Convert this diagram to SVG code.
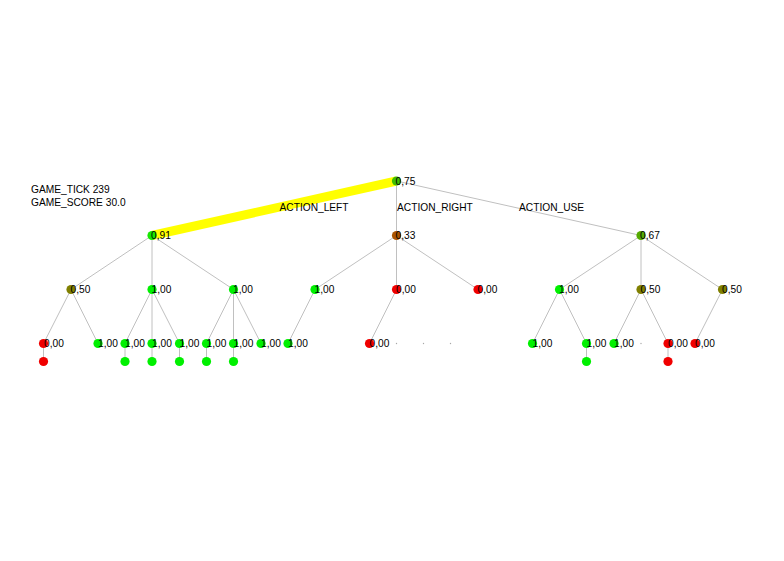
<svg xmlns="http://www.w3.org/2000/svg" width="784" height="561" viewBox="0 0 784 561">
<style>
text{font-family:"Liberation Sans",Arial,sans-serif;font-size:10.2px;fill:#000}
.e{stroke:#c0c0c0;stroke-width:1;fill:none}
.hl{stroke:#ffff00;stroke-width:9;fill:none}
.g{fill:#00f000}.r{fill:#f00000}.o{fill:#808000}
.dot{fill:#a8a8a8}
</style>
<rect width="784" height="561" fill="#fff"/>
<g id="info">
<text x="31" y="192.5">GAME_TICK 239</text>
<text x="31" y="206">GAME_SCORE 30.0</text>
</g>
<g id="connectors">
<line class="hl" x1="396.5" y1="181" x2="152" y2="235.5"/>
<line class="e" x1="396.5" y1="181" x2="396.5" y2="235.5"/>
<line class="e" x1="396.5" y1="181" x2="641" y2="235.5"/>
<line class="e" x1="152" y1="235.5" x2="71" y2="289.5"/>
<line class="e" x1="152" y1="235.5" x2="152" y2="289.5"/>
<line class="e" x1="152" y1="235.5" x2="233.5" y2="289.5"/>
<line class="e" x1="396.5" y1="235.5" x2="315" y2="289.5"/>
<line class="e" x1="396.5" y1="235.5" x2="396.5" y2="289.5"/>
<line class="e" x1="396.5" y1="235.5" x2="478" y2="289.5"/>
<line class="e" x1="641" y1="235.5" x2="559.5" y2="289.5"/>
<line class="e" x1="641" y1="235.5" x2="641" y2="289.5"/>
<line class="e" x1="641" y1="235.5" x2="722.5" y2="289.5"/>
<line class="e" x1="71" y1="289.5" x2="43.5" y2="343.5"/>
<line class="e" x1="71" y1="289.5" x2="98" y2="343.5"/>
<line class="e" x1="152" y1="289.5" x2="125" y2="343.5"/>
<line class="e" x1="152" y1="289.5" x2="152" y2="343.5"/>
<line class="e" x1="152" y1="289.5" x2="179.5" y2="343.5"/>
<line class="e" x1="233.5" y1="289.5" x2="206.5" y2="343.5"/>
<line class="e" x1="233.5" y1="289.5" x2="233.5" y2="343.5"/>
<line class="e" x1="233.5" y1="289.5" x2="261" y2="343.5"/>
<line class="e" x1="315" y1="289.5" x2="288" y2="343.5"/>
<line class="e" x1="396.5" y1="289.5" x2="369.5" y2="343.5"/>
<line class="e" x1="559.5" y1="289.5" x2="532.5" y2="343.5"/>
<line class="e" x1="559.5" y1="289.5" x2="586.5" y2="343.5"/>
<line class="e" x1="641" y1="289.5" x2="614" y2="343.5"/>
<line class="e" x1="641" y1="289.5" x2="668" y2="343.5"/>
<line class="e" x1="722.5" y1="289.5" x2="695" y2="343.5"/>
<line class="e" x1="43.5" y1="343.5" x2="43.5" y2="361.5"/>
<line class="e" x1="125" y1="343.5" x2="125" y2="361.5"/>
<line class="e" x1="152" y1="343.5" x2="152" y2="361.5"/>
<line class="e" x1="179.5" y1="343.5" x2="179.5" y2="361.5"/>
<line class="e" x1="206.5" y1="343.5" x2="206.5" y2="361.5"/>
<line class="e" x1="233.5" y1="343.5" x2="233.5" y2="361.5"/>
<line class="e" x1="586.5" y1="343.5" x2="586.5" y2="361.5"/>
<line class="e" x1="668" y1="343.5" x2="668" y2="361.5"/>
<text x="279.5" y="210.5">ACTION_LEFT</text>
<text x="397" y="210.5">ACTION_RIGHT</text>
<text x="519" y="210.5">ACTION_USE</text>
</g>
<g id="root"><circle cx="396.5" cy="181" r="4.6" fill="#40bf00"/><text x="395.5" y="184.5">0,75</text></g>
<g id="n1a"><circle cx="152" cy="235.5" r="4.6" fill="#17e800"/><text x="151" y="239">0,91</text></g>
<g id="n1b"><circle cx="396.5" cy="235.5" r="4.6" fill="#aa5500"/><text x="395.5" y="239">0,33</text></g>
<g id="n1c"><circle cx="641" cy="235.5" r="4.6" fill="#55aa00"/><text x="640" y="239">0,67</text></g>
<g id="n2a"><circle cx="71" cy="289.5" r="4.6" class="o"/><text x="70.5" y="293">0,50</text></g>
<g id="n2b"><circle cx="152" cy="289.5" r="4.6" class="g"/><text x="151.5" y="293">1,00</text></g>
<g id="n2c"><circle cx="233.5" cy="289.5" r="4.6" class="g"/><text x="233" y="293">1,00</text></g>
<g id="n2d"><circle cx="315" cy="289.5" r="4.6" class="g"/><text x="314.5" y="293">1,00</text></g>
<g id="n2e"><circle cx="396.5" cy="289.5" r="4.6" class="r"/><text x="396" y="293">0,00</text></g>
<g id="n2f"><circle cx="478" cy="289.5" r="4.6" class="r"/><text x="477.5" y="293">0,00</text></g>
<g id="n2g"><circle cx="559.5" cy="289.5" r="4.6" class="g"/><text x="559" y="293">1,00</text></g>
<g id="n2h"><circle cx="641" cy="289.5" r="4.6" class="o"/><text x="640.5" y="293">0,50</text></g>
<g id="n2i"><circle cx="722.5" cy="289.5" r="4.6" class="o"/><text x="722" y="293">0,50</text></g>
<g id="n3a"><circle cx="43.5" cy="343.5" r="4.6" class="r"/><text x="44" y="347">0,00</text></g>
<g id="n3b"><circle cx="98" cy="343.5" r="4.6" class="g"/><text x="98" y="347">1,00</text></g>
<g id="n3c"><circle cx="125" cy="343.5" r="4.6" class="g"/><text x="125" y="347">1,00</text></g>
<g id="n3d"><circle cx="152" cy="343.5" r="4.6" class="g"/><text x="152" y="347">1,00</text></g>
<g id="n3e"><circle cx="179.5" cy="343.5" r="4.6" class="g"/><text x="179.5" y="347">1,00</text></g>
<g id="n3f"><circle cx="206.5" cy="343.5" r="4.6" class="g"/><text x="206.5" y="347">1,00</text></g>
<g id="n3g"><circle cx="233.5" cy="343.5" r="4.6" class="g"/><text x="233.5" y="347">1,00</text></g>
<g id="n3h"><circle cx="261" cy="343.5" r="4.6" class="g"/><text x="261" y="347">1,00</text></g>
<g id="n3i"><circle cx="288" cy="343.5" r="4.6" class="g"/><text x="288" y="347">1,00</text></g>
<g id="n3j"><circle cx="369.5" cy="343.5" r="4.6" class="r"/><text x="369.5" y="347">0,00</text></g>
<g id="n3k"><circle cx="396.5" cy="343.5" r="0.7" class="dot"/></g>
<g id="n3l"><circle cx="423.5" cy="343.5" r="0.7" class="dot"/></g>
<g id="n3m"><circle cx="450.5" cy="343.5" r="0.7" class="dot"/></g>
<g id="n3n"><circle cx="532.5" cy="343.5" r="4.6" class="g"/><text x="532.5" y="347">1,00</text></g>
<g id="n3o"><circle cx="586.5" cy="343.5" r="4.6" class="g"/><text x="586.5" y="347">1,00</text></g>
<g id="n3p"><circle cx="614" cy="343.5" r="4.6" class="g"/><text x="614" y="347">1,00</text></g>
<g id="n3q"><circle cx="641" cy="343.5" r="0.7" class="dot"/></g>
<g id="n3r"><circle cx="668" cy="343.5" r="4.6" class="r"/><text x="668" y="347">0,00</text></g>
<g id="n3s"><circle cx="695" cy="343.5" r="4.6" class="r"/><text x="695" y="347">0,00</text></g>
<g id="n4a"><circle cx="43.5" cy="361.5" r="4.6" class="r"/></g>
<g id="n4b"><circle cx="125" cy="361.5" r="4.6" class="g"/></g>
<g id="n4c"><circle cx="152" cy="361.5" r="4.6" class="g"/></g>
<g id="n4d"><circle cx="179.5" cy="361.5" r="4.6" class="g"/></g>
<g id="n4e"><circle cx="206.5" cy="361.5" r="4.6" class="g"/></g>
<g id="n4f"><circle cx="233.5" cy="361.5" r="4.6" class="g"/></g>
<g id="n4g"><circle cx="586.5" cy="361.5" r="4.6" class="g"/></g>
<g id="n4h"><circle cx="668" cy="361.5" r="4.6" class="r"/></g>
</svg>
